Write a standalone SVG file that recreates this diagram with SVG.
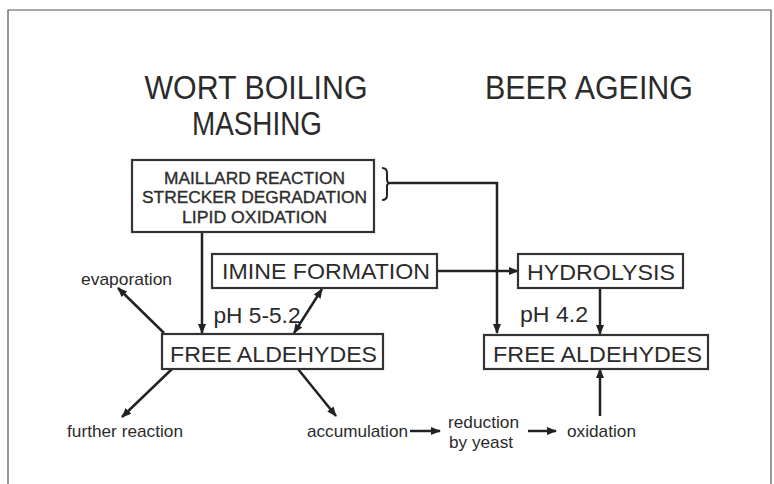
<svg xmlns="http://www.w3.org/2000/svg" width="774" height="484" viewBox="0 0 774 484">
<style>
text{font-family:"Liberation Sans",Arial,sans-serif;fill:#2b2b2b}
.title{font-size:33px;text-anchor:middle}
.box{fill:#fff;stroke:#333;stroke-width:2.2}
.big{font-size:22px;text-anchor:middle}
.small{font-size:17px}
.mid{font-size:16px;text-anchor:middle;stroke:#333;stroke-width:0.35}
.ln{fill:none;stroke:#222;stroke-width:2.5}
</style>
<defs>
<marker id="ah" markerUnits="userSpaceOnUse" markerWidth="10" markerHeight="10" viewBox="0 0 10 10" refX="9" refY="5" orient="auto-start-reverse">
<path d="M0,1 L10,5 L0,9 Z" fill="#222"/>
</marker>
</defs>
<rect width="774" height="484" fill="#fff"/>
<path d="M8,484 V10 H771 V484" fill="none" stroke="#555" stroke-width="1.2"/>
<g id="titles">
<text class="title" x="256" y="99" textLength="223" lengthAdjust="spacingAndGlyphs">WORT BOILING</text>
<text class="title" x="257" y="135" textLength="130" lengthAdjust="spacingAndGlyphs">MASHING</text>
<text class="title" x="589" y="99" textLength="208" lengthAdjust="spacingAndGlyphs">BEER AGEING</text>
</g>
<g id="connectors">
<line class="ln" x1="202" y1="232" x2="202" y2="333" marker-end="url(#ah)"/>
<path d="M382,168 Q387,168 387,173 V180 Q387,183 391,183 Q387,183 387,186 V195 Q387,200 382,200" fill="none" stroke="#222" stroke-width="2"/>
<polyline class="ln" points="391,183 497,183 497,333" marker-end="url(#ah)"/>
<line class="ln" x1="437" y1="271" x2="518" y2="271" marker-end="url(#ah)"/>
<line class="ln" x1="600" y1="288" x2="600" y2="334" marker-end="url(#ah)"/>
<line class="ln" x1="322" y1="289" x2="294" y2="333" marker-start="url(#ah)" marker-end="url(#ah)"/>
<line class="ln" x1="164" y1="333" x2="118" y2="288" marker-end="url(#ah)"/>
<line class="ln" x1="172" y1="369" x2="122" y2="417" marker-end="url(#ah)"/>
<line class="ln" x1="298" y1="369" x2="336" y2="416" marker-end="url(#ah)"/>
<line class="ln" x1="410" y1="431" x2="440" y2="431" marker-end="url(#ah)"/>
<line class="ln" x1="528" y1="431" x2="556" y2="431" marker-end="url(#ah)"/>
<line class="ln" x1="600" y1="416" x2="600" y2="369" marker-end="url(#ah)"/>
</g>
<g id="reactions">
<rect class="box" x="132" y="160" width="242" height="72" stroke-width="1.8"/>
<text class="mid" x="254.5" y="184" textLength="181" lengthAdjust="spacingAndGlyphs">MAILLARD REACTION</text>
<text class="mid" x="254.5" y="203" textLength="225" lengthAdjust="spacingAndGlyphs">STRECKER DEGRADATION</text>
<text class="mid" x="254.5" y="223" textLength="145" lengthAdjust="spacingAndGlyphs">LIPID OXIDATION</text>
</g>
<g id="imine">
<rect class="box" x="212" y="254" width="225" height="34" stroke-width="2.6"/>
<text class="big" x="326" y="279" textLength="208" lengthAdjust="spacingAndGlyphs">IMINE FORMATION</text>
</g>
<g id="hydrolysis">
<rect class="box" x="518" y="254" width="165" height="34" stroke-width="2.6"/>
<text class="big" x="601" y="280" textLength="148" lengthAdjust="spacingAndGlyphs">HYDROLYSIS</text>
</g>
<g id="aldehydes-left">
<rect class="box" x="162" y="334" width="221" height="35"/>
<text class="big" x="273.5" y="362" textLength="207" lengthAdjust="spacingAndGlyphs">FREE ALDEHYDES</text>
</g>
<g id="aldehydes-right">
<rect class="box" x="484" y="335" width="224" height="34"/>
<text class="big" x="597.5" y="362" textLength="209" lengthAdjust="spacingAndGlyphs">FREE ALDEHYDES</text>
</g>
<g id="labels">
<text class="big" x="257" y="323" text-anchor="middle" textLength="87" lengthAdjust="spacingAndGlyphs">pH 5-5.2</text>
<text class="big" x="554" y="322" textLength="68" lengthAdjust="spacingAndGlyphs">pH 4.2</text>
<text class="small" x="81" y="285" textLength="91" lengthAdjust="spacingAndGlyphs">evaporation</text>
<text class="small" x="67" y="437" textLength="116" lengthAdjust="spacingAndGlyphs">further reaction</text>
<text class="small" x="307" y="437" textLength="101" lengthAdjust="spacingAndGlyphs">accumulation</text>
<text class="small" x="448" y="428" textLength="71" lengthAdjust="spacingAndGlyphs">reduction</text>
<text class="small" x="449" y="448" textLength="64" lengthAdjust="spacingAndGlyphs">by yeast</text>
<text class="small" x="567" y="437" textLength="69" lengthAdjust="spacingAndGlyphs">oxidation</text>
</g>
</svg>
